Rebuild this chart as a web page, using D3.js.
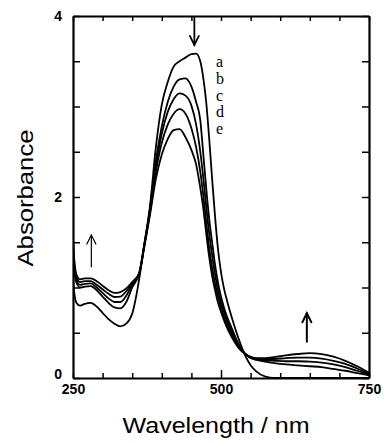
<!DOCTYPE html>
<html>
<head>
<meta charset="utf-8">
<script src="https://cdn.jsdelivr.net/npm/d3@7"></script>
<style>
  html, body { margin: 0; padding: 0; background: #fff; }
  svg { display: block; }
  .axis text { font-family: "Liberation Sans", Arial, sans-serif; font-weight: bold; font-size: 14px; fill: #000; }
  .axis path, .axis line { stroke: #000; }
</style>
</head>
<body>
<div id="chart"></div>
<script>
// wavelength grid (nm) shared by every spectrum
const wavelengths = [250, 252, 256, 262, 270, 280, 290, 300, 310, 320, 330, 340, 350, 362, 370, 380, 390, 400, 410, 420,
  430, 440, 450, 458, 465, 470, 475, 480, 485, 490, 495, 500, 505, 510, 515, 520, 530, 540, 550, 560,
  575, 590, 610, 630, 650, 670, 690, 710, 730, 750];

// absorbance, curves a..e
const seriesA = [1.15, 0.95, 0.83, 0.80, 0.82, 0.83, 0.79, 0.72, 0.65, 0.60, 0.57, 0.60, 0.71, 1.10, 1.46, 1.90, 2.55, 3.02, 3.27, 3.44,
  3.50, 3.54, 3.58, 3.585, 3.50, 3.32, 3.05, 2.65, 2.20, 1.78, 1.42, 1.17, 0.99, 0.86, 0.74, 0.63, 0.43, 0.26, 0.14, 0.07,
  0.015, 0.0, 0, 0, 0, 0, 0, 0, 0, 0];
const seriesB = [1.40, 1.20, 1.05, 1.00, 1.01, 1.015, 0.97, 0.90, 0.83, 0.78, 0.77, 0.84, 1.00, 1.16, 1.46, 1.87, 2.40, 2.78, 3.05, 3.22,
  3.30, 3.31, 3.22, 3.05, 2.85, 2.48, 2.10, 1.76, 1.50, 1.25, 1.05, 0.90, 0.78, 0.68, 0.60, 0.52, 0.37, 0.275, 0.22, 0.20,
  0.18, 0.165, 0.15, 0.14, 0.13, 0.12, 0.10, 0.08, 0.055, 0.03];
const seriesC = [1.45, 1.24, 1.08, 1.03, 1.04, 1.045, 1.00, 0.94, 0.88, 0.84, 0.84, 0.91, 1.03, 1.16, 1.45, 1.85, 2.34, 2.70, 2.94, 3.08,
  3.145, 3.12, 3.01, 2.80, 2.50, 2.22, 1.90, 1.60, 1.36, 1.14, 0.97, 0.84, 0.73, 0.64, 0.56, 0.48, 0.355, 0.27, 0.225, 0.205,
  0.195, 0.19, 0.185, 0.185, 0.18, 0.17, 0.15, 0.12, 0.08, 0.04];
const seriesD = [1.50, 1.28, 1.11, 1.06, 1.07, 1.07, 1.03, 0.98, 0.93, 0.895, 0.90, 0.96, 1.05, 1.16, 1.44, 1.83, 2.28, 2.60, 2.80, 2.92,
  2.97, 2.92, 2.76, 2.55, 2.28, 2.02, 1.72, 1.44, 1.22, 1.04, 0.90, 0.78, 0.68, 0.60, 0.52, 0.45, 0.34, 0.27, 0.23, 0.215,
  0.21, 0.21, 0.22, 0.225, 0.225, 0.215, 0.19, 0.155, 0.105, 0.05];
const seriesE = [1.55, 1.32, 1.14, 1.09, 1.10, 1.10, 1.07, 1.02, 0.97, 0.94, 0.95, 0.99, 1.06, 1.16, 1.43, 1.80, 2.20, 2.47, 2.64, 2.74,
  2.75, 2.66, 2.52, 2.36, 2.10, 1.88, 1.60, 1.34, 1.13, 0.97, 0.83, 0.73, 0.64, 0.56, 0.49, 0.43, 0.33, 0.27, 0.235, 0.22,
  0.22, 0.23, 0.25, 0.265, 0.275, 0.265, 0.235, 0.19, 0.13, 0.06];

const seriesNames = ['a', 'b', 'c', 'd', 'e'];
const seriesValues = [seriesA, seriesB, seriesC, seriesD, seriesE];

const xTicks = d3.range(250, 751, 50);
const xTickLabels = [250, 500, 750];
const yTicks = d3.range(0, 4.01, 0.5);
const yTickLabels = [0, 2, 4];

const width = 384, height = 443;
const margin = { top: 16, right: 15, bottom: 65, left: 73 };

const svg = d3.select('#chart').append('svg')
  .attr('width', width)
  .attr('height', height);

const x = d3.scaleLinear().domain([250, 750]).range([margin.left, width - margin.right]);
const y = d3.scaleLinear().domain([0, 4]).range([height - margin.bottom, margin.top]);

// clip so the curves stay inside the frame
svg.append('clipPath').attr('id', 'plot-clip')
  .append('rect')
  .attr('x', x(250)).attr('y', y(4))
  .attr('width', x(750) - x(250)).attr('height', y(0) - y(4));

const line = d3.line()
  .x(d => x(d[0]))
  .y(d => y(d[1]))
  .curve(d3.curveMonotoneX);

svg.append('g')
  .attr('clip-path', 'url(#plot-clip)')
  .selectAll('path')
  .data(seriesValues)
  .join('path')
  .attr('d', vals => line(wavelengths.map((w, i) => [w, vals[i]])))
  .attr('fill', 'none')
  .attr('stroke', '#000')
  .attr('stroke-width', 1.8)
  .attr('stroke-linejoin', 'round');

// axes, ticks pointing inward
const fmtX = d => xTickLabels.includes(d) ? d : '';
const fmtY = d => yTickLabels.includes(d) ? d : '';

const xAxis = svg.append('g')
  .attr('class', 'axis')
  .attr('transform', `translate(0,${y(0)})`)
  .call(d3.axisBottom(x).tickValues(xTicks).tickSizeInner(-5).tickSizeOuter(0).tickPadding(6).tickFormat(fmtX));
xAxis.selectAll('.tick line').filter(d => d === 500).attr('y2', -8);

svg.append('g')
  .attr('class', 'axis')
  .attr('transform', `translate(0,${y(4)})`)
  .call(d3.axisTop(x).tickValues(xTicks).tickSizeInner(-5).tickSizeOuter(0).tickFormat(''));

const yAxis = svg.append('g')
  .attr('class', 'axis')
  .attr('transform', `translate(${x(250)},0)`)
  .call(d3.axisLeft(y).tickValues(yTicks).tickSizeInner(-7).tickSizeOuter(0).tickPadding(11).tickFormat(fmtY));
// lift the "0" a little so it clears the "250" below it
yAxis.selectAll('.tick text').filter(d => d === 0).attr('dy', '0.05em');

svg.append('g')
  .attr('class', 'axis')
  .attr('transform', `translate(${x(750)},0)`)
  .call(d3.axisRight(y).tickValues(yTicks).tickSizeInner(-7).tickSizeOuter(0).tickFormat(''));

svg.selectAll('.axis .domain').attr('stroke-width', 2.2);
svg.selectAll('.axis .tick line').attr('stroke-width', 1.5);

// axis titles
svg.append('text')
  .attr('x', 216).attr('y', 433)
  .attr('text-anchor', 'middle')
  .attr('font-family', '"Liberation Sans", Arial, sans-serif')
  .attr('font-size', 22)
  .attr('textLength', 187)
  .attr('lengthAdjust', 'spacingAndGlyphs')
  .text('Wavelength / nm');

svg.append('text')
  .attr('transform', 'translate(33,198) rotate(-90)')
  .attr('text-anchor', 'middle')
  .attr('font-family', '"Liberation Sans", Arial, sans-serif')
  .attr('font-size', 22)
  .attr('textLength', 137)
  .attr('lengthAdjust', 'spacingAndGlyphs')
  .text('Absorbance');

// curve labels a..e
svg.append('g')
  .selectAll('text')
  .data(seriesNames)
  .join('text')
  .attr('x', 216)
  .attr('y', (d, i) => 62 + i * 16.7)
  .attr('dy', '0.32em')
  .attr('font-family', '"Liberation Serif", "Times New Roman", serif')
  .attr('font-size', 16)
  .text(d => d);

// arrows showing the direction of change
function arrow(nm, from, to, w) {
  const g = svg.append('g').attr('stroke', '#000').attr('fill', 'none')
    .attr('stroke-width', w).attr('stroke-linecap', 'round');
  const x0 = x(nm), y0 = y(from), y1 = y(to);
  const dir = y1 < y0 ? 1 : -1;
  g.append('line').attr('x1', x0).attr('y1', y0).attr('x2', x0).attr('y2', y1);
  g.append('path').attr('d', `M${x0 - 4.5},${y1 + dir * 9}L${x0},${y1}L${x0 + 4.5},${y1 + dir * 9}`);
}
arrow(455, 3.98, 3.68, 1.8);
arrow(281, 1.23, 1.58, 1.2);
arrow(645, 0.40, 0.715, 2);
</script>
</body>
</html>
